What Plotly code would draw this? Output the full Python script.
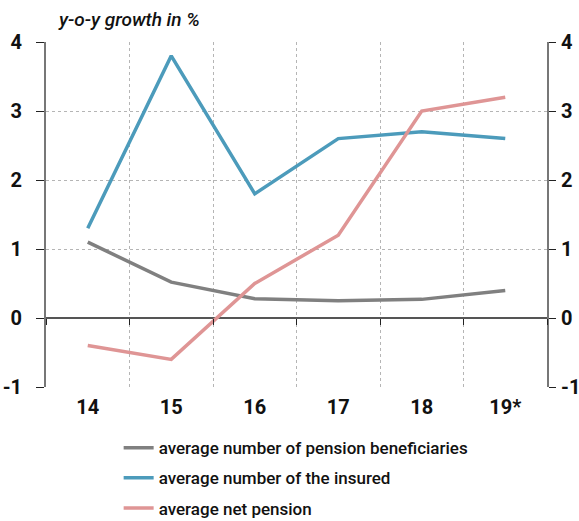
import plotly.graph_objects as go

years = ["14", "15", "16", "17", "18", "19*"]
beneficiaries = [1.1, 0.52, 0.28, 0.25, 0.27, 0.4]
insured = [1.3, 3.8, 1.8, 2.6, 2.7, 2.6]
net_pension = [-0.4, -0.6, 0.5, 1.2, 3.0, 3.2]
y_ticks = [-1, 0, 1, 2, 3, 4]
y_tick_labels = ["-1", "0", "1", "2", "3", "4"]

series = [
    ("average number of pension beneficiaries", beneficiaries, "#808080"),
    ("average number of the insured", insured, "#4c9bbb"),
    ("average net pension", net_pension, "#df9595"),
]

FONT = "Roboto"
y_range = [-1, 4]

fig = go.Figure()
for i, (name, vals, color) in enumerate(series):
    fig.add_trace(go.Scatter(x=years, y=vals, name=name, mode="lines",
                             legendgroup=f"g{i}",
                             line=dict(color=color, width=3.5)))

# invisible trace so the mirrored right-hand axis is drawn
fig.add_trace(go.Scatter(x=years, y=beneficiaries, yaxis="y2", xaxis="x2",
                         showlegend=False, hoverinfo="skip",
                         line=dict(color="rgba(0,0,0,0)")))

axis_font = dict(family=FONT, size=20, color="#111", weight="bold")
fig.update_layout(
    width=579, height=521,
    margin=dict(l=46, r=32, t=42, b=134, autoexpand=False),
    plot_bgcolor="white", paper_bgcolor="white",
    showlegend=True,
    legend=dict(x=0.145, y=-0.125, xanchor="left", yanchor="top",
                font=dict(family=FONT, size=17, color="#111", weight=500),
                tracegroupgap=5, itemwidth=30),
    xaxis=dict(type="category", range=[-0.5, 5.5], tickson="boundaries",
               showgrid=True, gridcolor="#b5b5b5", griddash="dot", gridwidth=1,
               ticks="", showline=False, tickfont=axis_font,
               ticklabelstandoff=6, automargin=False),
    # boundary tick marks sitting on the zero line
    xaxis2=dict(type="category", range=[-0.5, 5.5], tickson="boundaries",
                overlaying="x", anchor="free",
                position=(0 - y_range[0]) / (y_range[1] - y_range[0]),
                showgrid=False, showticklabels=False, ticks="outside",
                ticklen=6, tickcolor="#222", showline=False, automargin=False),
    yaxis=dict(range=y_range, tickvals=y_ticks, ticktext=y_tick_labels,
               showgrid=True, gridcolor="#b5b5b5",
               griddash="dot", zeroline=True, zerolinecolor="#555",
               zerolinewidth=1.5, showline=True, linecolor="#777", linewidth=2,
               ticks="outside", ticklen=8, tickcolor="#222",
               tickfont=axis_font, ticklabelstandoff=10, automargin=False),
    yaxis2=dict(range=y_range, tickvals=y_ticks, ticktext=y_tick_labels,
                overlaying="y", side="right",
                showgrid=False, zeroline=False, showline=True, linecolor="#777",
                linewidth=2, ticks="outside", ticklen=7, tickcolor="#222",
                tickfont=axis_font, ticklabelstandoff=1, automargin=False),
    annotations=[dict(text="<i>y-o-y growth in %</i>", xref="paper", yref="paper",
                      x=0.02, y=1.025, xanchor="left", yanchor="bottom",
                      showarrow=False,
                      font=dict(family=FONT, size=19, color="#111", weight=500))],
)

fig.write_html("out.html")
